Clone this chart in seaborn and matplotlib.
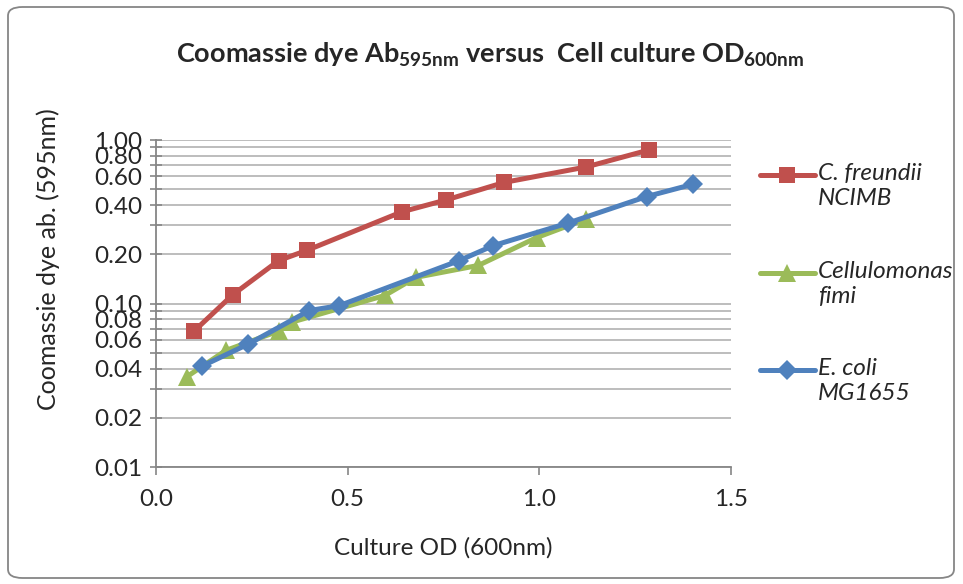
import pandas as pd
import matplotlib.pyplot as plt
import seaborn as sns
from matplotlib.lines import Line2D
from matplotlib.patches import FancyBboxPatch
from matplotlib.ticker import FixedLocator, FixedFormatter

sns.set_theme(style='white')
plt.rcParams['font.family'] = ['Lato', 'DejaVu Sans']
plt.rcParams['mathtext.fontset'] = 'custom'
plt.rcParams['mathtext.rm'] = 'Lato'
plt.rcParams['mathtext.bf'] = 'Lato:bold'

# data
freundii_od = [0.10, 0.20, 0.32, 0.395, 0.642, 0.757, 0.908, 1.122, 1.286]
freundii_ab = [0.068, 0.113, 0.183, 0.212, 0.364, 0.43, 0.55, 0.684, 0.869]

fimi_od = [0.08, 0.182, 0.321, 0.354, 0.597, 0.678, 0.841, 0.993, 1.121]
fimi_ab = [0.0356, 0.0516, 0.068, 0.0769, 0.112, 0.1445, 0.171, 0.253, 0.328]

ecoli_od = [0.121, 0.241, 0.40, 0.478, 0.791, 0.88, 1.074, 1.28, 1.402]
ecoli_ab = [0.0415, 0.0565, 0.0906, 0.097, 0.183, 0.226, 0.31, 0.451, 0.537]

series = [
    ('C. freundii\nNCIMB', freundii_od, freundii_ab, '#C0504D', 's', 12),
    ('Cellulomonas\nfimi', fimi_od, fimi_ab, '#9BBB59', '^', 13),
    ('E. coli\nMG1655', ecoli_od, ecoli_ab, '#4F81BD', 'D', 10),
]

ytick_labels = ['0.01', '0.02', '0.04', '0.06', '0.08', '0.10',
                '0.20', '0.40', '0.60', '0.80', '1.00']
ytick_minor = [0.03, 0.05, 0.07, 0.09, 0.3, 0.5, 0.7, 0.9]

W, H = 963, 584
fig = plt.figure(figsize=(W / 100, H / 100), dpi=100)
ax = fig.add_axes([156 / W, (H - 467) / H, 575 / W, 327 / H])

for label, xs, ys, color, marker, ms in series:
    df = pd.DataFrame({'od': xs, 'ab': ys})
    sns.lineplot(data=df, x='od', y='ab', ax=ax, color=color, marker=marker,
                 markersize=ms, markeredgewidth=0, linewidth=3.6, sort=False,
                 zorder=3)

ax.set_yscale('log')
ax.set_xlim(0, 1.5)
ax.set_ylim(0.01, 1.0)
ax.set_xticks([0, 0.5, 1.0, 1.5])
ax.set_xticklabels(['0.0', '0.5', '1.0', '1.5'])
ax.yaxis.set_major_locator(FixedLocator([float(v) for v in ytick_labels]))
ax.yaxis.set_major_formatter(FixedFormatter(ytick_labels))
ax.yaxis.set_minor_locator(FixedLocator(ytick_minor))
ax.yaxis.set_minor_formatter(FixedFormatter([''] * len(ytick_minor)))

ax.grid(True, axis='y', which='both', color='#b8b8b8', linewidth=1.3, zorder=0)
ax.grid(False, axis='x')
for s in ['top', 'right']:
    ax.spines[s].set_visible(False)
for s in ['left', 'bottom']:
    ax.spines[s].set_color('#868686')
    ax.spines[s].set_linewidth(1.3)

ax.tick_params(axis='x', which='major', direction='out', length=6, width=1.2,
               color='#868686', labelsize=17.5, pad=10, bottom=True)
ax.tick_params(axis='y', which='both', direction='inout', length=8, width=1.2,
               color='#868686', labelsize=17.5, pad=6, left=True)
ax.set_xlabel('')
ax.set_ylabel('')

fig.text(443 / W, 1 - 548 / H, 'Culture OD (600nm)', ha='center', va='center',
         fontsize=17.5)
fig.text(48 / W, 1 - 259 / H, 'Coomassie dye ab. (595nm)', ha='center',
         va='center', rotation=90, fontsize=18)
fig.text(490 / W, 1 - 55 / H,
         r'Coomassie dye Ab$_{\mathbf{595nm}}$ versus  Cell culture OD$_{\mathbf{600nm}}$',
         ha='center', va='center', fontsize=19.5, fontweight='bold')

# legend drawn by hand so the handle lines up with the first text line
leg_y = [175, 273, 370]
for (label, xs, ys, color, marker, ms), yy in zip(series, leg_y):
    yf = 1 - yy / H
    fig.add_artist(Line2D([760 / W, 787 / W, 815 / W], [yf, yf, yf],
                          transform=fig.transFigure, color=color, linewidth=3.6,
                          marker=marker, markersize=ms, markeredgewidth=0,
                          markevery=[1]))
    fig.text(818 / W, yf + 12 / H, label, ha='left', va='top', fontsize=17.5,
             style='italic', linespacing=1.25, transform=fig.transFigure)

fig.add_artist(FancyBboxPatch((8 / W, 6 / H), 946 / W, 571 / H,
                              boxstyle='round,pad=0,rounding_size=0.015',
                              transform=fig.transFigure, facecolor='none',
                              edgecolor='#868686', linewidth=1.3))

plt.savefig('out.png', dpi=100)
plt.close()
